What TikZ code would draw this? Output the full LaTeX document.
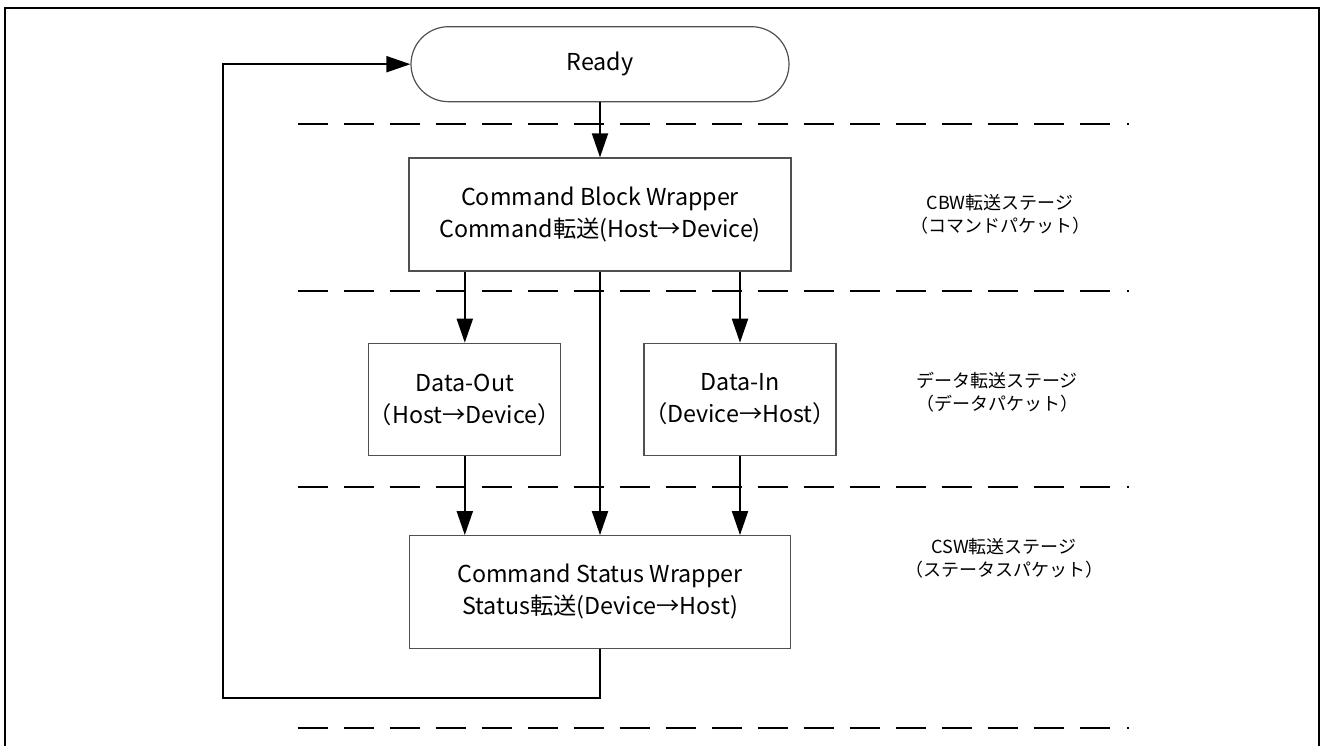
\documentclass[tikz,border=0pt]{standalone}
\usepackage{fontspec}
\newfontfamily\jp{Noto Sans CJK JP}
\usetikzlibrary{arrows.meta}
\definecolor{boxline}{RGB}{80,80,80}

\begin{document}
\begin{tikzpicture}[x=1pt,y=-1pt,
  box/.style={draw=boxline, line width=1.2pt, fill=white, inner sep=0pt,
    align=center, font=\jp\fontsize{23.3}{32}\selectfont},
  term/.style={box, rounded corners=37.5pt, minimum width=378pt, minimum height=75pt},
  flow/.style={line width=2pt, -{Triangle[length=24pt,width=16pt]}},
  wire/.style={line width=2pt},
  stagelbl/.style={align=center, inner sep=0pt, font=\jp\fontsize{18}{23}\selectfont},
  stageline/.style={line width=2pt, dash pattern=on 30pt off 16pt}
]
\useasboundingbox (0,0) rectangle (1323,746);
\clip (0,0) rectangle (1323,746);

% outer frame
\draw[line width=2.5pt] (5,760) -- (5,8) -- (1319,8) -- (1319,760);

% stage separators
\foreach \yy in {124,290.7,486.7,727.7}{
  \draw[stageline] (297.7,\yy) -- (1109.7,\yy);
  \draw[wire] (1127,\yy) -- (1129,\yy);
}

% flow nodes
\node[term] (ready) at (600,64.2) {Ready};
\node[box, minimum width=382pt, minimum height=113pt] (cbw) at (600,214.5)
  {Command Block Wrapper\\Command転送(Host→Device)};
\node[box, minimum width=188pt, minimum height=112.4pt] (dout) at (464.8,399.5)
  {Data-Out\\（Host→Device）};
\node[box, minimum width=188pt, minimum height=112.4pt] (din) at (740,399.5)
  {Data-In\\（Device→Host）};
\node[box, minimum width=381pt, minimum height=112.6pt] (csw) at (600,592)
  {Command Status Wrapper\\Status転送(Device→Host)};

% stage labels
\node[stagelbl] (lcbw) at (1000,214) {CBW転送ステージ\\（コマンドパケット）};
\node[stagelbl] (ldata) at (997,392) {データ転送ステージ\\（データパケット）};
\node[stagelbl] (lcsw) at (1004,558) {CSW転送ステージ\\（ステータスパケット）};

% connectors
\coordinate (loop) at (222.7,697.7);
\draw[flow] (ready.south) -- (cbw.north);
\draw[flow] (dout.north |- cbw.south) -- (dout.north);
\draw[flow] (din.north |- cbw.south) -- (din.north);
\draw[flow] (cbw.south) -- (csw.north);
\draw[flow] (dout.south) -- (dout.south |- csw.north);
\draw[flow] (din.south) -- (din.south |- csw.north);
\draw[flow] (csw.south) |- (loop) |- (ready.west);
\end{tikzpicture}
\end{document}
